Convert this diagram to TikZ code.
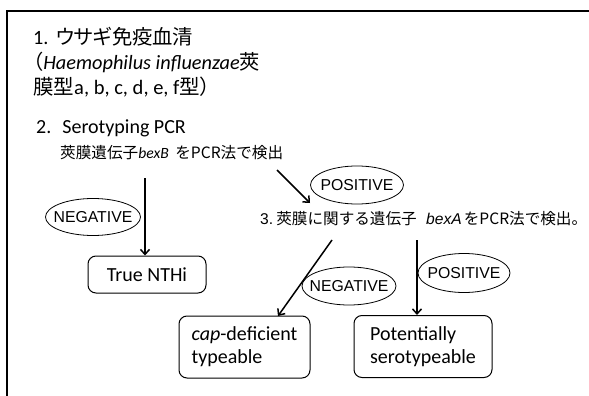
\documentclass[tikz,border=0pt]{standalone}
\usepackage{fontspec}
\usepackage{graphicx}
\setmainfont{Carlito}
\newfontfamily\jp{Noto Sans CJK JP}
\newfontfamily\jpp[RawFeature=+palt]{Noto Sans CJK JP}
\newfontfamily\ar{Liberation Sans}
\usetikzlibrary{arrows.meta}
\newcommand\bigjp[1]{{\jpp #1}}
\begin{document}
\begin{tikzpicture}[x=1pt,y=-1pt,
  txt/.style={inner sep=0pt, anchor=base west},
  lab/.style={inner sep=0pt, font=\ar\fontsize{15.8}{18}\selectfont},
  oval/.style={line width=0.8pt},
  box/.style={draw, line width=1pt, rounded corners=8pt, inner sep=0pt, font=\fontsize{20}{23}\selectfont},
  box2/.style={box, align=left, minimum height=62pt},
  arr/.style={line width=1.5pt, -{Straight Barb[length=5pt,width=9pt]}},
]
\useasboundingbox (0,0) rectangle (589,396);
\draw[line width=1.6pt] (7,396) -- (7,11) -- (589,11);

% title
\node[txt] (t1) at (33,45) {\resizebox{160pt}{!}{\fontsize{20}{24}\selectfont 1.\hspace{7pt}\bigjp{ウサギ免疫血清}}};
\node[txt] (t2) at (33,70) {\resizebox{227pt}{!}{\fontsize{20}{24}\selectfont \bigjp{（}\textit{Haemophilus influenzae}\bigjp{莢}}};
\node[txt] (t3) at (33,94) {\resizebox{177pt}{!}{\fontsize{20}{24}\selectfont \bigjp{膜型}a, b, c, d, e, f\bigjp{型）}}};
\node[txt] (t4) at (36,133) {\fontsize{20}{24}\selectfont 2.\hspace{11pt}Serotyping PCR};
\node[txt] (t5) at (60,158) {\resizebox{223pt}{!}{\fontsize{14.4}{17}\selectfont {\jp 莢膜遺伝子}\textit{bexB}\hspace{6pt}{\jp をPCR法で検出}}};
\node[txt] (t6) at (260,224) {\resizebox{327pt}{!}{\ar\fontsize{15}{18}\selectfont 3.\hspace{3pt}{\jp 莢膜に関する遺伝子}\hspace{9pt}\textit{bexA}\hspace{2pt}{\jp をPCR法で検出。}}};

% boxes
\node[box, minimum width=118pt, minimum height=37pt] (nthi) at (147,274.5) {True NTHi};
\node[box2, minimum width=131pt] (cap) at (244.5,347) {\textit{cap}-deficient\\typeable};
\node[box2, minimum width=138pt] (pot) at (423,346.5) {Potentially\\serotypeable};

% labels
\node[lab] (n1) at (93,217) {NEGATIVE};
\draw[oval] (n1.center) ellipse [x radius=47.5, y radius=18.5];
\node[lab] (p1) at (357,185) {POSITIVE};
\draw[oval] (p1.center) ellipse [x radius=46.5, y radius=19];
\node[lab] (n2) at (349,286) {NEGATIVE};
\draw[oval] (n2.center) ellipse [x radius=47, y radius=19];
\node[lab] (p2) at (464,273) {POSITIVE};
\draw[oval] (p2.center) ellipse [x radius=46, y radius=19.5];

% arrows
\coordinate (s1) at (145,178);
\coordinate (s2) at (277,170);
\coordinate (e2) at (310,203);
\coordinate (s3) at (332,240);
\coordinate (e3) at (278,316);
\coordinate (s4) at (417,240);
\draw[arr] (s1) -- (s1 |- nthi.north);
\draw[arr] (s2) -- (e2);
\draw[arr] (s3) -- (e3);
\draw[arr] (s4) -- (s4 |- pot.north);
\end{tikzpicture}
\end{document}
